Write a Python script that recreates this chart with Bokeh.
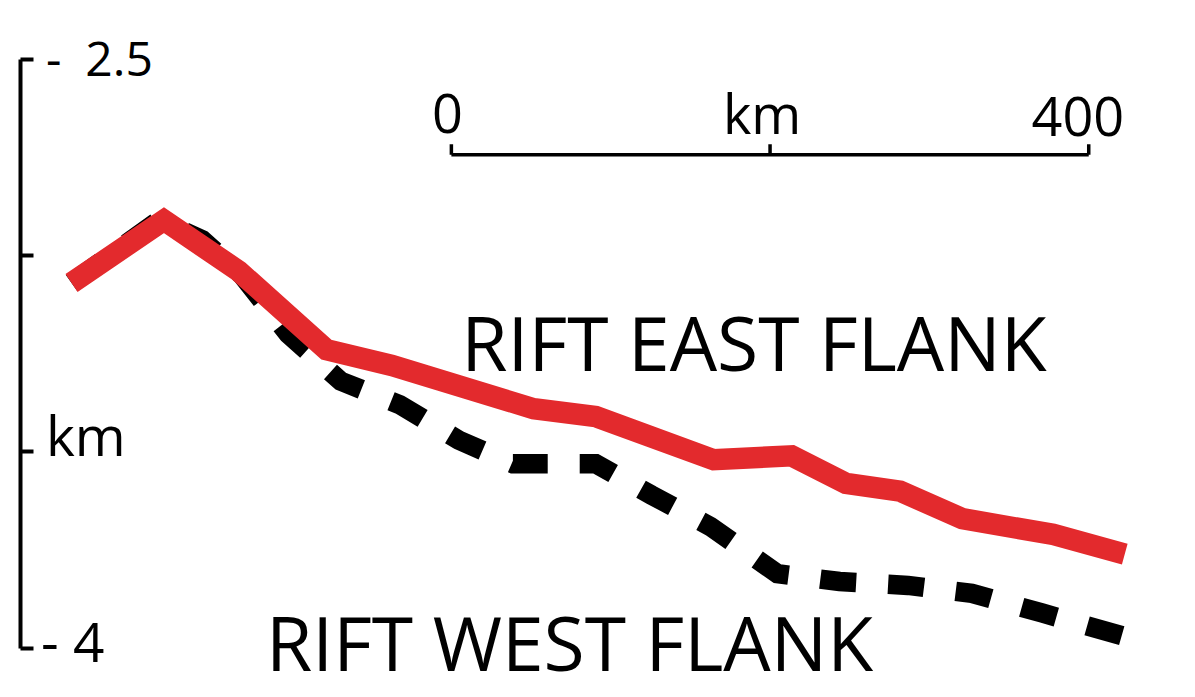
from bokeh.plotting import figure
from bokeh.models import Range1d, FixedTicker, ColumnDataSource
from bokeh.core.properties import value
from bokeh.embed import file_html
from bokeh.resources import INLINE

# ---------------- data ----------------
# distance along profile (km) and depth (km)
distance_east = [0, 58, 105, 160, 201, 290, 329, 403, 452, 486, 520, 559, 616, 661]
depth_east = [3.07, 2.91, 3.04, 3.24, 3.28, 3.39, 3.41, 3.52, 3.51, 3.58, 3.60, 3.67, 3.71, 3.76]

distance_west = [0, 55, 82, 107, 136, 169, 206, 243, 277, 329, 364, 401, 443, 482, 525, 565, 609, 661]
depth_west = [3.07, 2.91, 2.96, 3.05, 3.20, 3.32, 3.38, 3.47, 3.53, 3.53, 3.61, 3.69, 3.81, 3.83, 3.84, 3.86, 3.91, 3.97]

ytick_values = [2.5, 3.0, 3.5, 4.0]
ytick_top_label = "-\u20022.5"
ytick_bottom_label = "- 4"
yaxis_unit = "km"

scale_ticks_km = [0, 200, 400]
scale_labels = ["0", "km", "400"]

east_label = "RIFT EAST FLANK"
west_label = "RIFT WEST FLANK"

# ---------------- layout constants ----------------
W, H = 1179, 681
SX, SY = W / 1195.0, H / 697.0
FONT = "Open Sans"
RED = "#e32a2d"
BASE = 0.39  # rendered baseline shift (fraction of font size)

# horizontal: 1.615 design px per km, profile start at design x = 72
def kx(px):
    return (px - 72) / 1.615

# vertical: depth 2.5 at design y = 60, 402 design px per km
def dy(py):
    return 2.5 + (py - 60) / 402.0

LEFT = 20
x_range = Range1d(kx(LEFT / SX), kx(1195))
y_range = Range1d(dy(697), dy(0))   # depth increases downward

p = figure(width=W, height=H, x_range=x_range, y_range=y_range,
           output_backend="svg", toolbar_location=None,
           x_axis_location=None, y_axis_location="left",
           min_border_left=LEFT, min_border_right=0,
           min_border_top=0, min_border_bottom=0)
p.outline_line_color = None
p.grid.visible = False
p.background_fill_color = "white"
p.border_fill_color = "white"

ax = p.yaxis[0]
ax.ticker = FixedTicker(ticks=ytick_values)
ax.bounds = (ytick_values[0], ytick_values[-1])
ax.major_label_text_font_size = "0px"
ax.major_label_standoff = 0
ax.major_tick_in = 13
ax.major_tick_out = 0
ax.minor_tick_in = 0
ax.minor_tick_out = 0
ax.axis_line_width = 4
ax.major_tick_line_width = 4
ax.axis_line_color = "black"
ax.major_tick_line_color = "black"

# lines
p.line(distance_west, depth_west, line_color="black", line_width=19.5,
       line_dash="36 32", line_join="miter", line_cap="butt")
p.line(distance_east, depth_east, line_color=RED, line_width=21.5,
       line_join="miter", line_cap="butt")

def txt(x, y, s, fs, yoff_design=0.0, align="left", **kw):
    p.text(x=[x], y=[y], text=[s], text_font=value(FONT), text_font_size=f"{fs}px",
           text_color="black", text_align=align, text_baseline="alphabetic",
           y_offset=yoff_design * SY - BASE * fs, **kw)

# y-axis labels
txt(kx(46), ytick_values[0], ytick_top_label, 48, yoff_design=17)
txt(kx(41), ytick_values[-1], ytick_bottom_label, 55, yoff_design=14)
txt(kx(46), ytick_values[2], yaxis_unit, 55, yoff_design=4)

# scale bar
scale_x0 = kx(457)
scale_y = dy(158)
tick_h = 11 / 402.0
p.segment(x0=[scale_x0], y0=[scale_y], x1=[scale_x0 + scale_ticks_km[-1]], y1=[scale_y],
          line_color="black", line_width=3.5)
p.segment(x0=[scale_x0 + t for t in scale_ticks_km], y0=[scale_y] * len(scale_ticks_km),
          x1=[scale_x0 + t for t in scale_ticks_km], y1=[scale_y - tick_h] * len(scale_ticks_km),
          line_color="black", line_width=3.5)
fs_scale = 54
scale_src = ColumnDataSource(dict(
    x=[scale_x0 + t for t in scale_ticks_km],
    y=[scale_y] * len(scale_ticks_km),
    text=scale_labels,
    xo=[-4 * SX, -8 * SX, -11 * SX],
    yo=[-21 * SY - BASE * fs_scale, -21 * SY - BASE * fs_scale, -18 * SY - BASE * fs_scale],
))
p.text(x="x", y="y", text="text", x_offset="xo", y_offset="yo", source=scale_src,
       text_font=value(FONT), text_font_size=f"{fs_scale}px", text_color="black",
       text_align="center", text_baseline="alphabetic")

# flank labels
txt(kx(467), dy(379), east_label, 75)
txt(kx(269), dy(687), west_label, 75)

open("out.html", "w").write(file_html(p, INLINE))
